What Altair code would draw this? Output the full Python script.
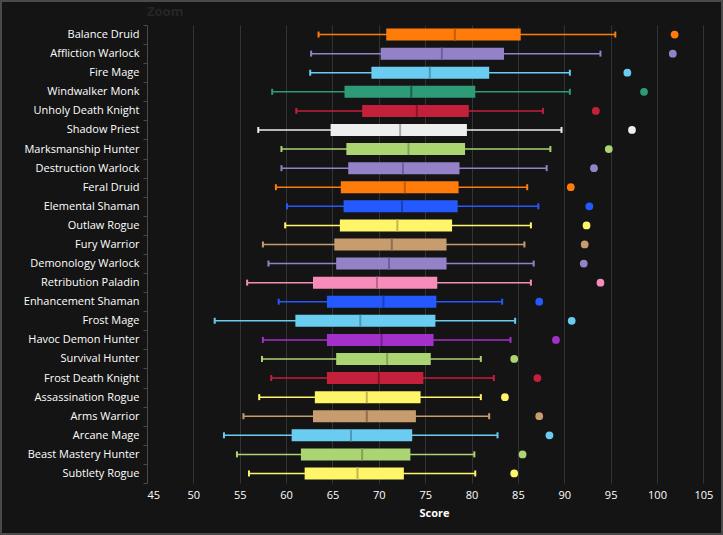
import altair as alt
import pandas as pd

specs = ["Balance Druid", "Affliction Warlock", "Fire Mage", "Windwalker Monk",
         "Unholy Death Knight", "Shadow Priest", "Marksmanship Hunter",
         "Destruction Warlock", "Feral Druid", "Elemental Shaman", "Outlaw Rogue",
         "Fury Warrior", "Demonology Warlock", "Retribution Paladin",
         "Enhancement Shaman", "Frost Mage", "Havoc Demon Hunter", "Survival Hunter",
         "Frost Death Knight", "Assassination Rogue", "Arms Warrior", "Arcane Mage",
         "Beast Mastery Hunter", "Subtlety Rogue"]
classes = ["Druid", "Warlock", "Mage", "Monk", "Death Knight", "Priest", "Hunter",
           "Warlock", "Druid", "Shaman", "Rogue", "Warrior", "Warlock", "Paladin",
           "Shaman", "Mage", "Demon Hunter", "Hunter", "Death Knight", "Rogue",
           "Warrior", "Mage", "Hunter", "Rogue"]
low = [63.5, 62.7, 62.6, 58.5, 61.1, 57.0, 59.5, 59.5, 58.9, 60.1, 59.9, 57.5,
       58.1, 55.8, 59.2, 52.3, 57.5, 57.4, 58.4, 57.1, 55.4, 53.3, 54.7, 56.0]
q1 = [70.8, 70.2, 69.2, 66.3, 68.2, 64.8, 66.5, 66.7, 65.9, 66.2, 65.8, 65.2,
      65.4, 62.9, 64.4, 61.0, 64.4, 65.4, 64.4, 63.1, 62.9, 60.6, 61.6, 62.0]
median = [78.2, 76.8, 75.5, 73.5, 74.1, 72.3, 73.2, 72.6, 72.8, 72.5, 72.0, 71.4,
          71.1, 69.8, 70.5, 68.0, 70.3, 70.9, 70.0, 68.7, 68.7, 67.0, 68.2, 67.7]
q3 = [85.3, 83.5, 81.9, 80.4, 79.7, 79.5, 79.3, 78.7, 78.6, 78.5, 77.9, 77.3,
      77.3, 76.3, 76.2, 76.1, 75.9, 75.6, 74.8, 74.5, 74.0, 73.6, 73.4, 72.7]
high = [95.5, 93.9, 90.6, 90.6, 87.7, 89.7, 88.5, 88.1, 86.0, 87.2, 86.4, 85.7,
        86.7, 86.4, 83.3, 84.7, 84.2, 81.0, 82.4, 81.0, 81.9, 82.8, 80.3, 80.4]
top = [101.9, 101.7, 96.8, 98.6, 93.4, 97.3, 94.8, 93.2, 90.7, 92.7, 92.4, 92.2,
       92.1, 93.9, 87.3, 90.8, 89.1, 84.6, 87.1, 83.6, 87.3, 88.4, 85.5, 84.6]
x_ticks = [45, 50, 55, 60, 65, 70, 75, 80, 85, 90, 95, 100, 105]
title_text = ["Zoom"]

class_colors = {
    "Druid": "#ff7c0a", "Warlock": "#9482c9", "Mage": "#69ccf0", "Monk": "#2d9b78",
    "Death Knight": "#c41f3b", "Priest": "#eeeeee", "Hunter": "#abd473",
    "Shaman": "#2459ff", "Rogue": "#fff569", "Warrior": "#c79c6e",
    "Paladin": "#f58cba", "Demon Hunter": "#a330c9",
}
median_colors = {
    "Druid": "#c45d05", "Warlock": "#6f5f9c", "Mage": "#4a9ab8", "Monk": "#1f5e4b",
    "Death Knight": "#8a1529", "Priest": "#a8a8a8", "Hunter": "#82a356",
    "Shaman": "#1a3fb8", "Rogue": "#c2b94d", "Warrior": "#8f6f4e",
    "Paladin": "#b86887", "Demon Hunter": "#76238f",
}

df = pd.DataFrame({"spec": specs, "cls": classes, "low": low, "q1": q1,
                   "median": median, "q3": q3, "high": high, "top": top})
df["col"] = [class_colors[c] for c in classes]
df["mcol"] = [median_colors[c] for c in classes]

FONT = "Open Sans"

xscale = alt.Scale(domain=[45, 106.9], nice=False, zero=False)
yenc = alt.Y("spec:N", sort=specs, title=None,
             scale=alt.Scale(paddingInner=0, paddingOuter=0),
             axis=alt.Axis(tickBand="extent", domainColor="#4a4a4a", tickColor="#4a4a4a",
                           tickSize=4, labelColor="#ffffff", labelFont=FONT,
                           labelFontSize=11, labelPadding=4, grid=False))
xaxis = alt.Axis(values=x_ticks, title="Score", grid=True, gridColor="#333333",
                 domain=False, ticks=False, labelColor="#ffffff", labelFont=FONT,
                 labelFontSize=11, labelPadding=6, titleColor="#ffffff",
                 titleFont=FONT, titleFontSize=11, titleFontWeight="bold",
                 titlePadding=7)

base = alt.Chart(df)

whisker = base.mark_rule(strokeWidth=1.5).encode(
    x=alt.X("low:Q", scale=xscale, axis=xaxis), x2="high:Q", y=yenc,
    color=alt.Color("col:N", scale=None))
caps_low = base.mark_tick(thickness=2, size=6, opacity=1).encode(
    x=alt.X("low:Q", scale=xscale), y=yenc, color=alt.Color("col:N", scale=None))
caps_high = base.mark_tick(thickness=2, size=6, opacity=1).encode(
    x=alt.X("high:Q", scale=xscale), y=yenc, color=alt.Color("col:N", scale=None))
box = base.mark_bar(size=12).encode(
    x=alt.X("q1:Q", scale=xscale), x2="q3:Q", y=yenc,
    color=alt.Color("col:N", scale=None))
med = base.mark_tick(thickness=2, size=12, opacity=1).encode(
    x=alt.X("median:Q", scale=xscale), y=yenc,
    color=alt.Color("mcol:N", scale=None))
dots = base.mark_circle(size=60, opacity=1).encode(
    x=alt.X("top:Q", scale=xscale), y=yenc, color=alt.Color("col:N", scale=None))

frame = alt.Chart(pd.DataFrame({"a": [0]})).mark_rect(
    fill=None, stroke="#4a4a4a", strokeWidth=2, clip=False).encode(
    x=alt.value(-146), x2=alt.value(575), y=alt.value(-24), y2=alt.value(509))

title_mark = alt.Chart(pd.DataFrame({"t": title_text})).mark_text(
    align="left", baseline="middle", color="#262626", font=FONT, fontSize=13,
    fontWeight="bold", clip=False).encode(
    text="t:N", x=alt.value(0), y=alt.value(-13))

chart = alt.layer(whisker, caps_low, caps_high, box, med, dots, frame,
                  title_mark).properties(
    width=574, height=458,
    autosize=alt.AutoSizeParams(type="none"),
    padding={"left": 147, "top": 25, "right": 2, "bottom": 52},
    background="#141414",
).configure_view(stroke=None)

chart.save("out.html", embed_options={"renderer": "svg", "actions": False})
